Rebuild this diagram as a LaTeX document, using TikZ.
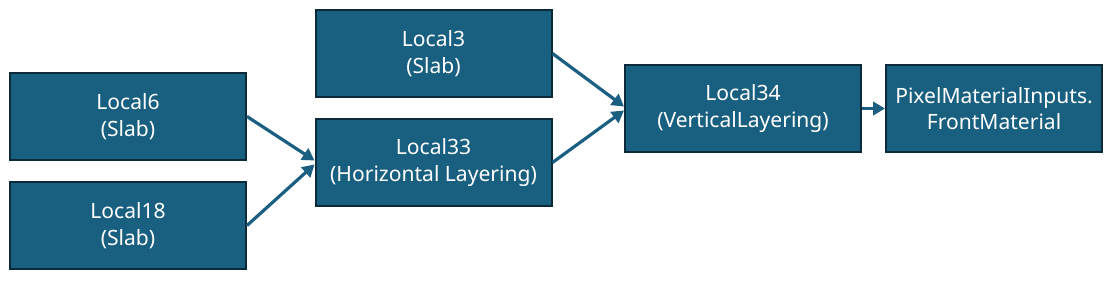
\documentclass[tikz,border=0pt]{standalone}
\usepackage{fontspec}
\setmainfont{Noto Sans}
\usetikzlibrary{arrows.meta,calc}
\definecolor{boxfill}{HTML}{185F80}
\definecolor{boxedge}{HTML}{0D2A3A}
\definecolor{arr}{HTML}{1A5F82}
\begin{document}
\begin{tikzpicture}[x=0.75pt,y=-0.75pt,
  box/.style={draw=boxedge,fill=boxfill,line width=1.5pt,minimum width=177pt,minimum height=65.25pt,
    text=white,align=center,inner sep=0pt,font=\fontsize{15.8pt}{19.8pt}\selectfont},
  conn/.style={draw=arr,line width=2.4pt,-{Triangle[length=9pt,width=10pt]}}]
\useasboundingbox (0,0) rectangle (1119,285);
\node[box] (l6) at (128,116.5) {Local6\\(Slab)};
\node[box] (l18) at (128,225.5) {Local18\\(Slab)};
\node[box] (l3) at (433.5,53.5) {Local3\\(Slab)};
\node[box] (l33) at (433.5,162.5) {Local33\\(Horizontal Layering)};
\node[box] (l34) at (743,108.5) {Local34\\(VerticalLayering)};
\node[box,minimum width=162pt] (px) at (994,108.5) {PixelMaterialInputs.\\FrontMaterial};
\draw[conn] (l6.east) -- ($(l33.west)+(0,-2)$);
\draw[conn] (l18.east) -- ($(l33.west)+(0,2)$);
\draw[conn] (l3.east) -- ($(l34.west)+(0,-2)$);
\draw[conn] (l33.east) -- ($(l34.west)+(0,2)$);
\draw[conn] (l34.east) -- (px.west);
\end{tikzpicture}
\end{document}
